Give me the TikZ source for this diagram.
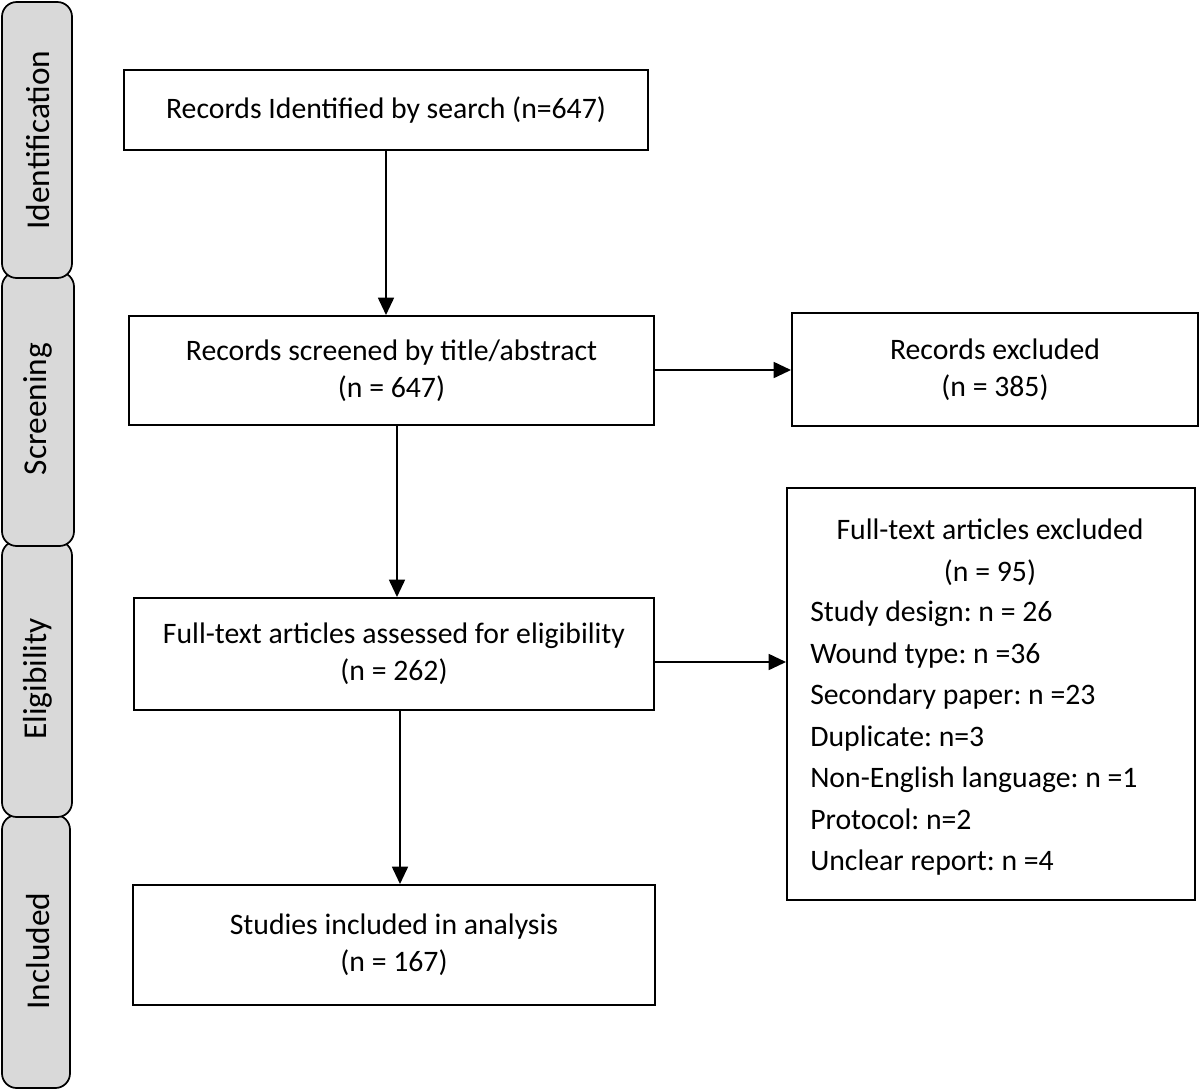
\documentclass[tikz,border=0pt]{standalone}
\usepackage{fontspec}
\setmainfont{Carlito}
\usetikzlibrary{arrows.meta}
\definecolor{bargray}{HTML}{D9D9D9}
\frenchspacing
\begin{document}
\begin{tikzpicture}[x=0.75pt,y=-0.75pt,
  stage/.style={draw=black,line width=1.3pt,fill=bargray,rounded corners=11pt},
  stagetext/.style={rotate=90,font=\fontsize{25}{30}\selectfont},
  box/.style={draw=black,line width=1.5pt,fill=white,align=center,inner sep=0pt,
    font=\fontsize{22.3}{27.5}\selectfont},
  arr/.style={line width=1.3pt,-{Triangle[length=13pt,width=12pt]}}]
\useasboundingbox (0,0) rectangle (1200,1090);
% stage bars (drawn back to front)
\draw[stage] (2,815) rectangle (70,1088);
\draw[stage] (2,541) rectangle (72,817);
\draw[stage] (2,272) rectangle (74,546);
\draw[stage] (2,2) rectangle (72,278);
\node[stagetext] (sid) at (38,140) {Identification};
\node[stagetext] (ssc) at (38,409) {Screening};
\node[stagetext] (sel) at (38,679) {Eligibility};
\node[stagetext] (sin) at (38,951) {Included};
% boxes
\node[box,minimum width=524*0.75pt,minimum height=80*0.75pt] (b1) at (386,110)
  {Records Identified by search (n=647)};
\node[box,minimum width=525*0.75pt,minimum height=109*0.75pt] (b2) at (391.5,370.5)
  {Records screened by title/abstract\\(n = 647)};
\node[box,minimum width=406*0.75pt,minimum height=113*0.75pt] (b3) at (995,369.5)
  {Records excluded\\(n = 385)};
\node[box,minimum width=520*0.75pt,minimum height=112*0.75pt] (b4) at (394,654)
  {Full-text articles assessed for eligibility\\(n = 262)};
\node[box,minimum width=408*0.75pt,minimum height=412*0.75pt] (b5) at (991,694) {};
\node[anchor=north,inner sep=0pt,align=center,
  font=\fontsize{22.3}{31.1}\selectfont] (b5h) at (990,519)
  {Full-text articles excluded\\(n = 95)};
\node[anchor=north west,inner sep=0pt,align=left,
  font=\fontsize{22.3}{31.1}\selectfont] (b5t) at (810,601)
  {Study design: n = 26\\
   Wound type: n =36\\
   Secondary paper: n =23\\
   Duplicate: n=3\\
   Non-English language: n =1\\
   Protocol: n=2\\
   Unclear report: n =4};
\node[box,minimum width=522*0.75pt,minimum height=120*0.75pt] (b6) at (394,945)
  {Studies included in analysis\\(n = 167)};
% arrows
\draw[arr] (b1.south -| 386,0) -- (b2.north -| 386,0);
\draw[arr] (b2.east |- 0,370) -- (b3.west |- 0,370);
\draw[arr] (b2.south -| 397,0) -- (b4.north -| 397,0);
\draw[arr] (b4.east |- 0,662) -- (b5.west |- 0,662);
\draw[arr] (b4.south -| 400,0) -- (b6.north -| 400,0);
\end{tikzpicture}
\end{document}
